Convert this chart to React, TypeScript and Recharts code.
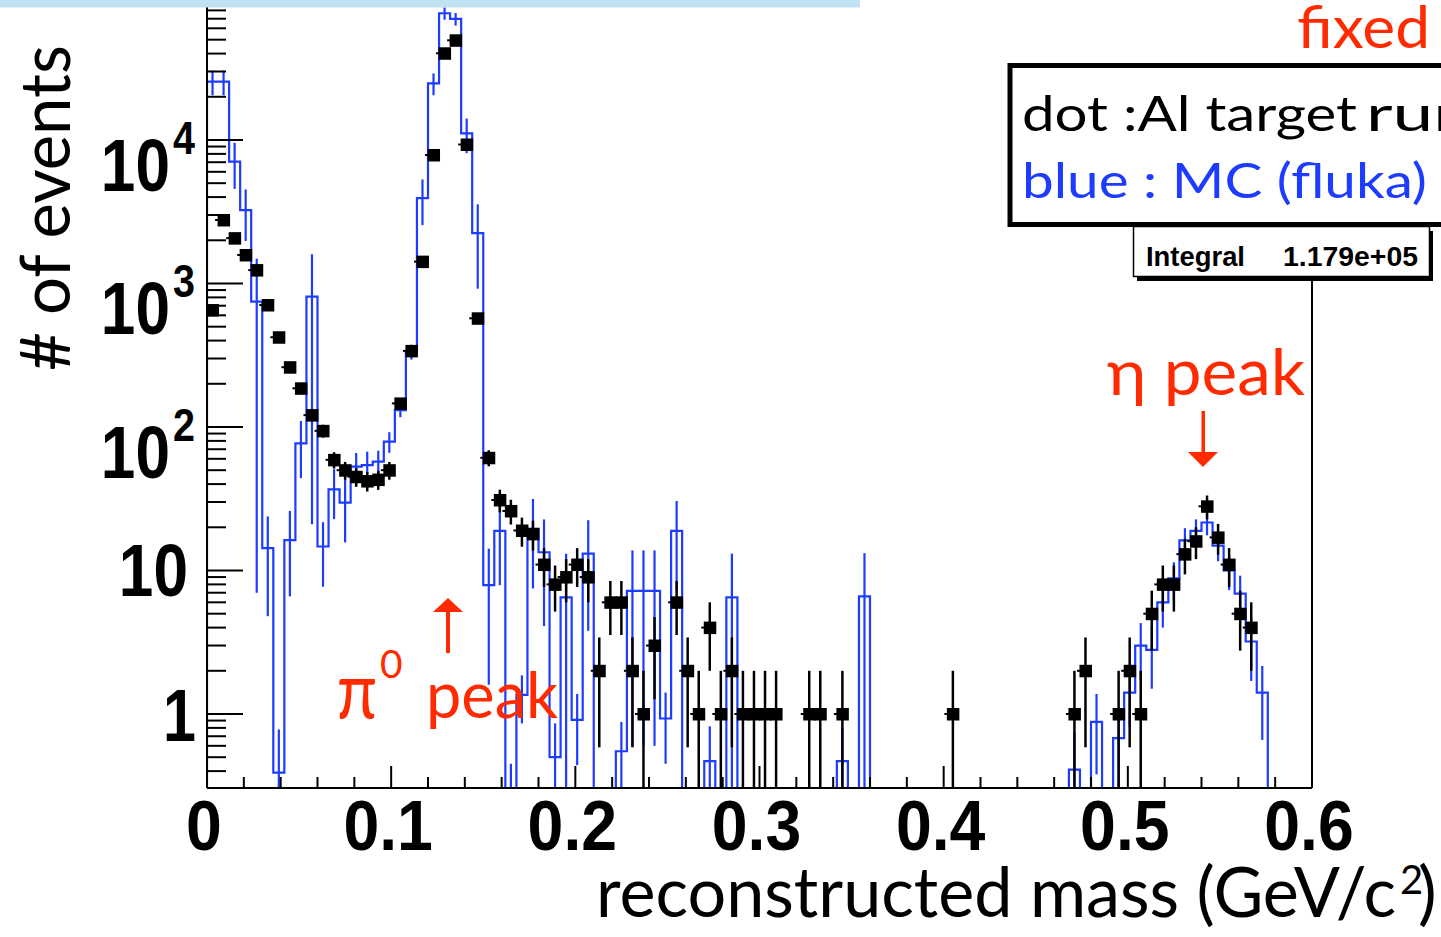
import React from 'react';
import { ComposedChart, XAxis, YAxis, Line, Scatter, ErrorBar, ReferenceLine } from 'recharts';

// ---- binning / axis ranges ----
const N_BINS = 100;
const BIN_WIDTH = 0.006;
const X_MIN = 0;
const X_MAX = 0.6;
const Y_MIN = 0.305;
const Y_MAX = 94500;

// ---- data (dots: Al target run) ----
const dataCounts = [
  653, 2770, 2070, 1580, 1240, 708, 422, 261, 186, 121,
  94, 59, 50, 45, 42, 43, 50, 146, 339, 1420,
  7860, 40200, 49500, 9300, 572, 61, 31, 26, 19, 18,
  11, 8, 9, 11, 9, 2, 6, 6, 2, 1,
  3, 0, 6, 2, 1, 4, 1, 2, 1, 1,
  1, 1, 0, 0, 1, 1, 0, 1, 0, 0,
  0, 0, 0, 0, 0, 0, 0, 1, 0, 0,
  0, 0, 0, 0, 0, 0, 0, 0, 1, 2,
  0, 0, 1, 2, 1, 5, 8, 8, 13, 16,
  28, 17, 11, 5, 4, 0, 0, 0, 0, 0,
];

// ---- MC (fluka), blue histogram ----
const mcValues = [
  25500, 25500, 7060, 3250, 747, 14.3, 0.39, 16.3, 77, 809,
  14.7, 36.8, 29.7, 52.9, 54.3, 57.3, 79, 131, 335, 3930,
  24800, 76400, 69700, 11100, 2240, 7.9, 18.9, 0.2, 1.36, 19.5,
  13.4, 0.5, 6.5, 0.91, 13.1, 0, 0, 0.55, 7.2, 7.2,
  7.2, 0.93, 18.9, 0, 0, 0.47, 0, 6.5, 0, 0,
  0, 0, 0, 0, 0, 0, 0, 0.47, 0, 6.6,
  0, 0, 0, 0, 0, 0, 0, 0, 0, 0,
  0, 0, 0, 0, 0, 0, 0, 0, 0.41, 0,
  0.88, 0, 0.68, 1.41, 3.0, 2.8, 6.0, 8.8, 16.2, 18.9,
  21.6, 14.9, 10, 6.9, 3.2, 1.41, 0, 0, 0, 0,
];

const mcErrors = [
  5000, 5000, 2500, 1270, 740, 9.5, 0.39, 9.7, 33, 788,
  7, 14, 14, 13, 13, 11, 13, 14, 40, 1380,
  4300, 7500, 7000, 3000, 1320, 6.3, 11, 0.25, 0.5, 12,
  9.3, 0.36, 6.6, 0.47, 9.3, 0, 0, 0.33, 6.6, 6.6,
  6.6, 0.48, 11.6, 0, 0, 0.35, 0, 6.6, 0, 0,
  0, 0, 0, 0, 0, 0, 0, 0.33, 0, 6.6,
  0, 0, 0, 0, 0, 0, 0, 0, 0, 0,
  0, 0, 0, 0, 0, 0, 0, 0, 0.34, 0,
  0.5, 0, 0.4, 0.6, 1.3, 1.3, 2, 2.6, 3.5, 3.8,
  4, 3.3, 2.7, 2.3, 1.5, 0.75, 0, 0, 0, 0,
];

// ---- ticks ----
const xMajorTicks = [0, 0.1, 0.2, 0.3, 0.4, 0.5, 0.6];
const xTickLabels = ['0', '0.1', '0.2', '0.3', '0.4', '0.5', '0.6'];
const xMinorStep = 0.02;
const yMajorTicks = [1, 10, 100, 1000, 10000];
const yMinorMultipliers = [2, 3, 4, 5, 6, 7, 8, 9];
const yDecades = [0.1, 1, 10, 100, 1000, 10000];

const xTicks = Array.from({ length: Math.round(X_MAX / xMinorStep) + 1 }, (_, k) => +(k * xMinorStep).toFixed(2));
const yTicks = [
  ...yMajorTicks,
  ...yDecades.flatMap((d) => yMinorMultipliers.map((m) => +(m * d).toPrecision(3))),
].filter((v) => v >= Y_MIN && v <= Y_MAX).sort((a, b) => a - b);

// ---- colours ----
const BLUE = '#1d3cff';
const RED = '#ff2a00';

const clampY = (v: number) => Math.max(v, Y_MIN);

const histPoints = [
  { x: X_MIN, y: Y_MIN },
  ...mcValues.map((v, i) => ({ x: +(i * BIN_WIDTH).toFixed(4), y: clampY(v) })),
  { x: X_MAX, y: clampY(mcValues[N_BINS - 1]) },
];

const mcErrPoints = mcValues
  .map((v, i) => {
    if (v <= 0) return null;
    const e = mcErrors[i];
    const yc = clampY(v);
    return {
      x: (i + 0.5) * BIN_WIDTH,
      y: yc,
      err: [yc - clampY(v - e), Math.max(v + e - yc, 0)],
    };
  })
  .filter(Boolean) as { x: number; y: number; err: number[] }[];

const dataPoints = dataCounts
  .map((n, i) => {
    if (n <= 0) return null;
    const s = Math.sqrt(n);
    return { x: (i + 0.5) * BIN_WIDTH, y: n, err: [n - clampY(n - s), s] };
  })
  .filter(Boolean) as { x: number; y: number; err: number[] }[];

const tickFont: React.CSSProperties = {
  fontFamily: '"Liberation Sans", Arial, sans-serif',
  fontWeight: 'bold',
  fontSize: 74,
  fill: '#000',
};

const XTick = (props: any) => {
  const { x, y, payload } = props;
  const v = Number(payload.value);
  const idx = xMajorTicks.findIndex((t) => Math.abs(t - v) < 1e-6);
  const major = idx >= 0;
  return (
    <g>
      <line x1={x} y1={y} x2={x} y2={y - (major ? 22 : 11)} stroke="#000" strokeWidth={2} />
      {major && (
        <text
          transform={`translate(${x - 3},${y + 62}) scale(0.92,1)`}
          textAnchor="middle"
          style={{ ...tickFont, fontSize: 70 }}
        >
          {xTickLabels[idx]}
        </text>
      )}
    </g>
  );
};

const YTick = (props: any) => {
  const { x, y, payload } = props;
  const v = Number(payload.value);
  const idx = yMajorTicks.findIndex((t) => Math.abs(t - v) < 1e-9 * t);
  const major = idx >= 0;
  return (
    <g>
      <line x1={x} y1={y} x2={x + (major ? 36 : 19)} y2={y} stroke="#000" strokeWidth={2} />
      {major && idx === 0 && (
        <text transform={`translate(196,${y + 27}) scale(0.8,1)`} textAnchor="end" style={tickFont}>1</text>
      )}
      {major && idx === 1 && (
        <text transform={`translate(188,${y + 26}) scale(0.84,1)`} textAnchor="end" style={tickFont}>10</text>
      )}
      {major && idx >= 2 && (
        <g>
          <text transform={`translate(170,${y + 51}) scale(0.84,1)`} textAnchor="end" style={tickFont}>10</text>
          <text transform={`translate(195,${y + 14}) scale(0.84,1)`} textAnchor="end" style={{ ...tickFont, fontSize: 47 }}>
            {String(idx)}
          </text>
        </g>
      )}
    </g>
  );
};

const DataMarker = (props: any) => {
  const { cx, cy } = props;
  if (cx == null || cy == null) return <g />;
  return (
    <g>
      <line x1={cx - 8.5} y1={cy} x2={cx} y2={cy} stroke="#000" strokeWidth={2} />
      <rect x={cx - 6} y={cy - 6} width={12.5} height={12.5} fill="#000" />
    </g>
  );
};

const EmptyShape = () => <g />;

const gill = 'Lato, "Open Sans", sans-serif';

export default function App() {
  return (
    <div style={{ position: 'absolute', left: 0, top: 0, width: 1441, height: 937, background: '#fff', overflow: 'hidden' }}>
      <ComposedChart width={1441} height={937} margin={{ top: 0, right: 129, bottom: 0, left: 0 }}>
        <XAxis
          type="number"
          dataKey="x"
          domain={[X_MIN, X_MAX]}
          allowDataOverflow
          ticks={xTicks}
          interval={0}
          tick={<XTick />}
          tickLine={false}
          tickSize={0}
          tickMargin={0}
          height={149}
          axisLine={{ stroke: '#000', strokeWidth: 2 }}
        />
        <YAxis
          type="number"
          dataKey="y"
          scale="log"
          domain={[Y_MIN, Y_MAX]}
          allowDataOverflow
          ticks={yTicks}
          interval={0}
          tick={<YTick />}
          tickLine={false}
          tickSize={0}
          tickMargin={0}
          width={207}
          axisLine={{ stroke: '#000', strokeWidth: 2 }}
        />
        <ReferenceLine
          segment={[{ x: X_MAX, y: 1050 }, { x: X_MAX, y: Y_MIN }]}
          stroke="#000"
          strokeWidth={2}
          ifOverflow="visible"
        />
        <Line
          data={histPoints}
          dataKey="y"
          type="stepAfter"
          stroke={BLUE}
          strokeWidth={2.2}
          dot={false}
          activeDot={false}
          isAnimationActive={false}
        />
        <Scatter data={mcErrPoints} shape={<EmptyShape />} isAnimationActive={false}>
          <ErrorBar dataKey="err" direction="y" width={0} stroke={BLUE} strokeWidth={2.2} isAnimationActive={false} />
        </Scatter>
        <Scatter data={dataPoints} shape={<DataMarker />} isAnimationActive={false}>
          <ErrorBar dataKey="err" direction="y" width={0} stroke="#000" strokeWidth={2.5} isAnimationActive={false} />
        </Scatter>
      </ComposedChart>

      <svg width={1441} height={937} style={{ position: 'absolute', left: 0, top: 0, pointerEvents: 'none' }}>
        <rect x={0} y={0} width={860} height={7.5} fill="#bfe3f2" />

        <text
          transform="translate(70,371) rotate(-90)"
          fontFamily={gill}
          fontSize={70}
          textLength={326}
          lengthAdjust="spacingAndGlyphs"
          fill="#000"
        >
          # of events
        </text>

        <text x={596} y={917} fontFamily={gill} fontSize={70} textLength={800} lengthAdjust="spacingAndGlyphs" fill="#000">
          reconstructed mass (GeV/c
        </text>
        <text x={1400} y={894} fontFamily={gill} fontSize={40} fill="#000">2</text>
        <text x={1418} y={917} fontFamily={gill} fontSize={70} fill="#000">)</text>

        <text x={1297} y={48} fontFamily={gill} fontSize={59} textLength={133} lengthAdjust="spacingAndGlyphs" fill={RED}>
          fixed
        </text>

        <rect x={1010} y={65.5} width={470} height={159} fill="#fff" stroke="#000" strokeWidth={5} />
        <text x={1022} y={131} fontFamily={gill} fontSize={49} textLength={335} lengthAdjust="spacingAndGlyphs" fill="#000">
          dot :Al target
        </text>
        <text x={1366} y={131} fontFamily={gill} fontSize={49} textLength={108} lengthAdjust="spacingAndGlyphs" fill="#000">run</text>
        <text x={1022} y={198} fontFamily={gill} fontSize={49} textLength={405} lengthAdjust="spacingAndGlyphs" fill={BLUE}>
          blue : MC (fluka)
        </text>

        <rect x={1137} y={231} width={296} height={50} fill="#000" />
        <rect x={1133.5} y={226.5} width={296} height={50} fill="#fff" stroke="#000" strokeWidth={1.5} />
        <text x={1146} y={266} fontFamily='"Liberation Sans", Arial, sans-serif' fontWeight="bold" fontSize={27} textLength={99} lengthAdjust="spacingAndGlyphs" fill="#000">
          Integral
        </text>
        <text x={1283} y={266} fontFamily='"Liberation Sans", Arial, sans-serif' fontWeight="bold" fontSize={27} textLength={135} lengthAdjust="spacingAndGlyphs" fill="#000">
          1.179e+05
        </text>

        <text x={1107} y={395} fontFamily={gill} fontSize={64} textLength={198} lengthAdjust="spacingAndGlyphs" fill={RED}>
          η peak
        </text>
        <rect x={1201.5} y={411} width={3.5} height={42} fill={RED} />
        <polygon points="1188,452 1218,452 1203,467" fill={RED} />

        <text x={337} y={718} fontFamily={gill} fontSize={80} textLength={40} lengthAdjust="spacingAndGlyphs" fill={RED}>π</text>
        <text x={380} y={678} fontFamily={gill} fontSize={39} fill={RED}>0</text>
        <text x={426} y={718} fontFamily={gill} fontSize={64} textLength={132} lengthAdjust="spacingAndGlyphs" fill={RED}>
          peak
        </text>
        <polygon points="433,612 463,612 448,598" fill={RED} />
        <rect x={446} y={611} width={4} height={42} fill={RED} />
      </svg>
    </div>
  );
}
